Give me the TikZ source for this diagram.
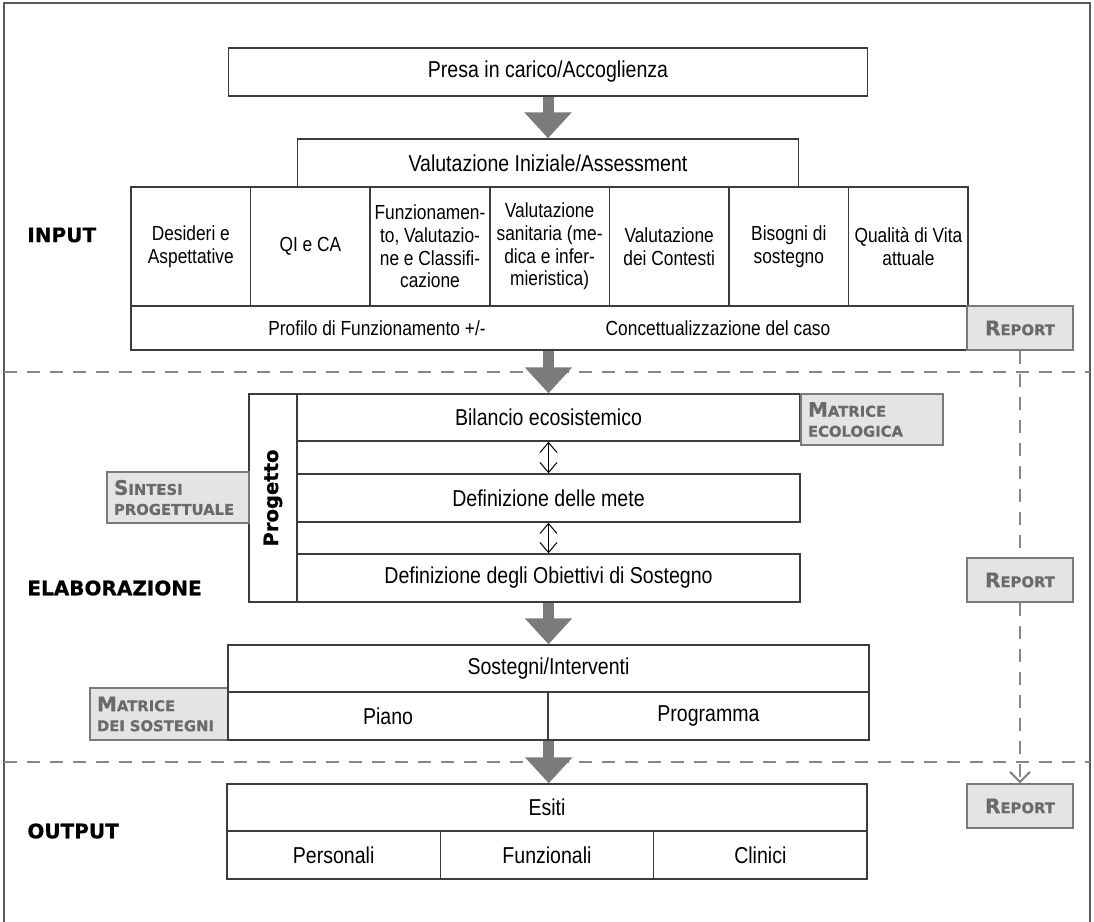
\documentclass[tikz,border=0pt]{standalone}
\usepackage{fontspec}
\setmainfont{Liberation Sans}[FakeStretch=0.85]
\newfontfamily\heavyfont{DejaVu Sans}[BoldFeatures={FakeBold=0.6}]
\usepackage{tikz}
\usetikzlibrary{arrows.meta}
\definecolor{boxline}{HTML}{3C3C3C}
\definecolor{greyfill}{HTML}{E4E4E4}
\definecolor{greyline}{HTML}{7A7A7A}
\definecolor{greytext}{HTML}{6A6A6A}
\definecolor{bigarrow}{HTML}{7B7B7B}
\definecolor{dashline}{HTML}{878787}
\newcommand{\capword}[2]{{\fontsize{10}{10}\selectfont #1}{\fontsize{7.4}{10}\selectfont #2}}

\begin{document}
\begin{tikzpicture}[x=0.5pt,y=-0.5pt,
  cell/.style={draw=boxline, line width=0.75pt, fill=white, inner sep=0pt, align=center, font=\fontsize{11.5}{13}\selectfont},
  small cell/.style={cell, font=\fontsize{10.2}{11.4}\selectfont},
  tag/.style={draw=greyline, line width=0.75pt, fill=greyfill, text=greytext, inner xsep=3.5pt, inner ysep=0pt, align=left, font=\heavyfont\bfseries\fontsize{7.4}{10}\selectfont},
  reportbox/.style={draw=greyline, line width=0.75pt, fill=greyfill, text=greytext, inner sep=0pt, align=center, font=\heavyfont\bfseries, minimum width=53pt, minimum height=22pt},
  phase/.style={anchor=west, inner sep=0pt, font=\heavyfont\bfseries\fontsize{10}{12}\selectfont},
  flow/.style={bigarrow, line width=5.5pt, -{Triangle[width=23pt,length=13pt]}},
  swap/.style={line width=0.5pt, {Straight Barb[width=8.5pt,length=5pt]}-{Straight Barb[width=8.5pt,length=5pt]}},
  divider/.style={dashline, line width=1pt, dash pattern=on 6.5pt off 5pt},
]
\useasboundingbox (0,0) rectangle (1094,922);
\draw[boxline!85, line width=0.75pt] (4,922) -- (4,3) -- (1090,3) -- (1090,922);

\draw[divider] (4,372) -- (1090,372);
\draw[divider] (4,762) -- (1090,762);

\node[cell, minimum width=319.5pt, minimum height=24pt] (presa) at (548,72) {Presa in carico/Accoglienza};
\node[cell, minimum width=250.5pt, minimum height=24pt] (valini) at (548,163) {Valutazione Iniziale/Assessment};
\foreach \txt [count=\i from 0] in {{Desideri e\\Aspettative},{QI e CA},{Funzionamen-\\to, Valutazio-\\ne e Classifi-\\cazione},{Valutazione\\sanitaria (me-\\dica e infer-\\mieristica)},{Valutazione\\dei Contesti},{Bisogni di\\sostegno},{Qualità di Vita\\attuale}}
  \node[small cell, minimum width=59.8pt, minimum height=59.5pt] (in\i) at (190.8+119.6*\i,246.5) {\txt};
\node[small cell, minimum width=418.5pt, minimum height=22pt] (profilo) at (549.5,328) {};
\node[font=\fontsize{10.2}{11.4}\selectfont] (proftxt) at (377,328) {Profilo di Funzionamento +/-};
\node[font=\fontsize{10.2}{11.4}\selectfont] (conctxt) at (718,328) {Concettualizzazione del caso};
\node[reportbox] (rep1) at (1020,328) {\capword{R}{EPORT}};
\node[phase] (inlab) at (27,235) {INPUT};

\node[cell, rotate=90, minimum width=104pt, minimum height=24pt, font=\heavyfont\bfseries\fontsize{9.8}{11}\selectfont] (progetto) at (273,498) {Progetto};
\node[cell, minimum width=251.5pt, minimum height=23.5pt] (bilancio) at (548.5,417.5) {Bilancio ecosistemico};
\node[cell, minimum width=251.5pt, minimum height=24pt] (mete) at (548.5,498) {Definizione delle mete};
\node[cell, minimum width=251.5pt, minimum height=24pt] (obiettivi) at (548.5,578) {Definizione degli Obiettivi di Sostegno};
\draw[swap] (bilancio.south) -- (mete.north);
\draw[swap] (mete.south) -- (obiettivi.north);
\node[tag, text width=64pt, minimum height=25.5pt] (matreco) at (872,419.5) {\capword{M}{ATRICE}\\ECOLOGICA};
\node[tag, text width=64pt, minimum height=25.5pt] (sintesi) at (178,497.5) {\capword{S}{INTESI}\\PROGETTUALE};
\node[reportbox] (rep2) at (1020,580) {\capword{R}{EPORT}};
\node[phase] (elablab) at (27,588) {ELABORAZIONE};

\node[tag, text width=62pt, minimum height=26pt] (matsost) at (159,714) {\capword{M}{ATRICE}\\DEI SOSTEGNI};
\node[cell, minimum width=320.5pt, minimum height=23.5pt] (sostegni) at (548.5,668.5) {Sostegni/Interventi};
\node[cell, minimum width=160pt, minimum height=24pt] (piano) at (388,716) {Piano};
\node[cell, minimum width=160.5pt, minimum height=24pt] (programma) at (708.5,716) {Programma};

\node[cell, minimum width=320pt, minimum height=23.5pt] (esiti) at (547,807.5) {Esiti};
\foreach \txt [count=\i from 0] in {Personali,Funzionali,Clinici}
  \node[cell, minimum width=106.67pt, minimum height=24pt] (out\i) at (333.67+213.33*\i,855) {\txt};
\node[reportbox] (rep3) at (1020,806) {\capword{R}{EPORT}};
\node[phase] (outlab) at (27,831) {OUTPUT};

\draw[flow] (presa.south) -- (valini.north);
\draw[flow] (profilo.south -| bilancio.north) -- (bilancio.north);
\draw[flow] (obiettivi.south) -- (sostegni.north);
\draw[flow] (piano.south east) -- (esiti.north -| piano.south east);

\draw[divider] (rep1.south) -- (rep2.north);
\draw[divider, -{Straight Barb[width=10pt,length=5pt]}] (rep2.south) -- (rep3.north);
\end{tikzpicture}
\end{document}
